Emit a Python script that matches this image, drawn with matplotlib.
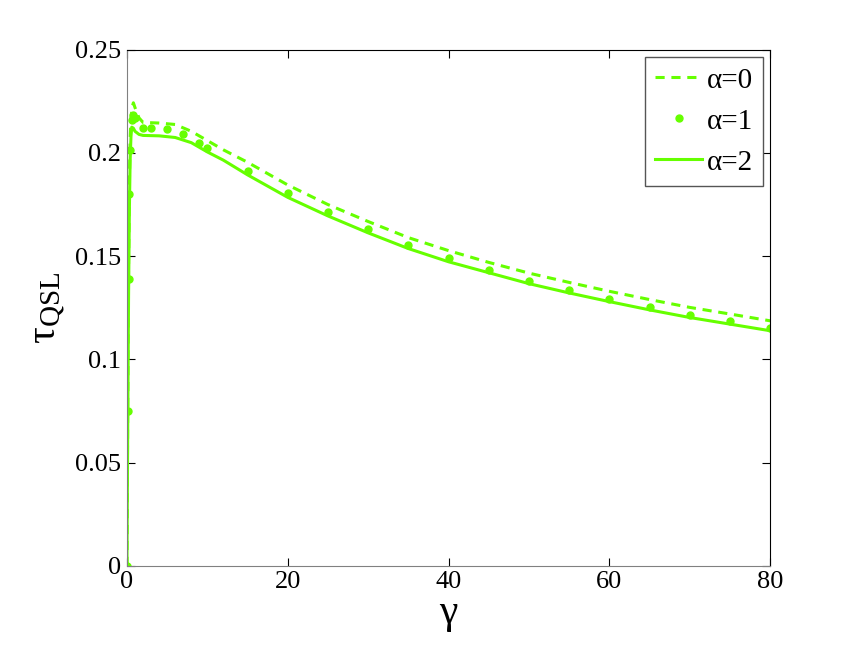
import numpy as np
import matplotlib
matplotlib.use("Agg")
import matplotlib.pyplot as plt

plt.rcParams['font.family'] = ['Liberation Serif', 'DejaVu Serif']
plt.rcParams['mathtext.fontset'] = 'custom'
plt.rcParams['mathtext.rm'] = 'Liberation Serif'
plt.rcParams['mathtext.it'] = 'Liberation Serif'

# alpha = 0 (dashed)
x_a0 = [0, 0.1, 0.2, 0.3, 0.4, 0.5, 0.7, 0.8, 1, 1.5, 2, 4, 6, 8, 10, 12, 15, 20, 25,
        30, 35, 40, 45, 50, 55, 60, 65, 70, 75, 80]
y_a0 = [0, 0.08, 0.145, 0.185, 0.207, 0.217, 0.223, 0.2243, 0.222, 0.217, 0.2148, 0.2145,
        0.2138, 0.2105, 0.206, 0.2015, 0.1955, 0.1845, 0.175, 0.1668, 0.159, 0.1527, 0.147,
        0.1418, 0.1373, 0.133, 0.129, 0.1252, 0.122, 0.1187]

# alpha = 1 (dots)
x_a1 = [0, 0.1, 0.2, 0.3, 0.4, 0.6, 0.8, 1, 2, 3, 5, 7, 9, 10, 15, 20, 25, 30, 35, 40,
        45, 50, 55, 60, 65, 70, 75, 80]
y_a1 = [0, 0.075, 0.139, 0.180, 0.2015, 0.216, 0.2185, 0.217, 0.212, 0.2122, 0.2117,
        0.2092, 0.2049, 0.2025, 0.1914, 0.1807, 0.1715, 0.1633, 0.1555, 0.1492, 0.1434,
        0.1381, 0.1337, 0.1294, 0.1255, 0.1216, 0.1187, 0.1153]

# alpha = 2 (solid)
x_a2 = [0, 0.1, 0.2, 0.3, 0.4, 0.5, 0.6, 0.8, 1, 1.5, 2, 4, 6, 8, 10, 12, 15, 20, 25,
        30, 35, 40, 45, 50, 55, 60, 65, 70, 75, 80]
y_a2 = [0, 0.07, 0.13, 0.172, 0.197, 0.208, 0.2125, 0.212, 0.2105, 0.209, 0.2085, 0.2083,
        0.2075, 0.205, 0.2005, 0.1965, 0.1894, 0.1785, 0.1695, 0.1613, 0.1537, 0.1473,
        0.142, 0.1367, 0.1322, 0.128, 0.124, 0.1203, 0.1171, 0.1139]

green = '#66ff00'

fig = plt.figure(figsize=(8.52, 6.46), dpi=100)
ax = fig.add_axes([0.149, 0.124, 0.755, 0.799])

ax.plot(x_a0, y_a0, '--', color=green, lw=2.2, dashes=(3, 2.2), label='α=0')
ax.plot(x_a1, y_a1, '.', color=green, ms=10, label='α=1')
ax.plot(x_a2, y_a2, '-', color=green, lw=2.2, label='α=2')

ax.set_xlim(0, 80)
ax.set_ylim(0, 0.25)
ax.set_xticks([0, 20, 40, 60, 80])
ax.set_yticks([0, 0.05, 0.1, 0.15, 0.2, 0.25])
ax.set_yticklabels(['0', '0.05', '0.1', '0.15', '0.2', '0.25'])
ax.tick_params(direction='in', top=True, right=True, labelsize=19, length=6, pad=4)
for s in ax.spines.values():
    s.set_linewidth(0.8)
ax.spines['left'].set_color('#808080')
ax.spines['bottom'].set_color('#808080')

ax.set_xlabel('γ', fontsize=30, labelpad=0)
ax.set_ylabel(r'$\mathregular{τ_{QSL}}$', fontsize=30, labelpad=6)

leg = ax.legend(loc='upper right', fontsize=21, fancybox=False, framealpha=1,
                edgecolor='#555555', handlelength=1.6, borderaxespad=0.25,
                handletextpad=0.15, borderpad=0.35, labelspacing=0.5)

fig.savefig('out.png', dpi=100)
